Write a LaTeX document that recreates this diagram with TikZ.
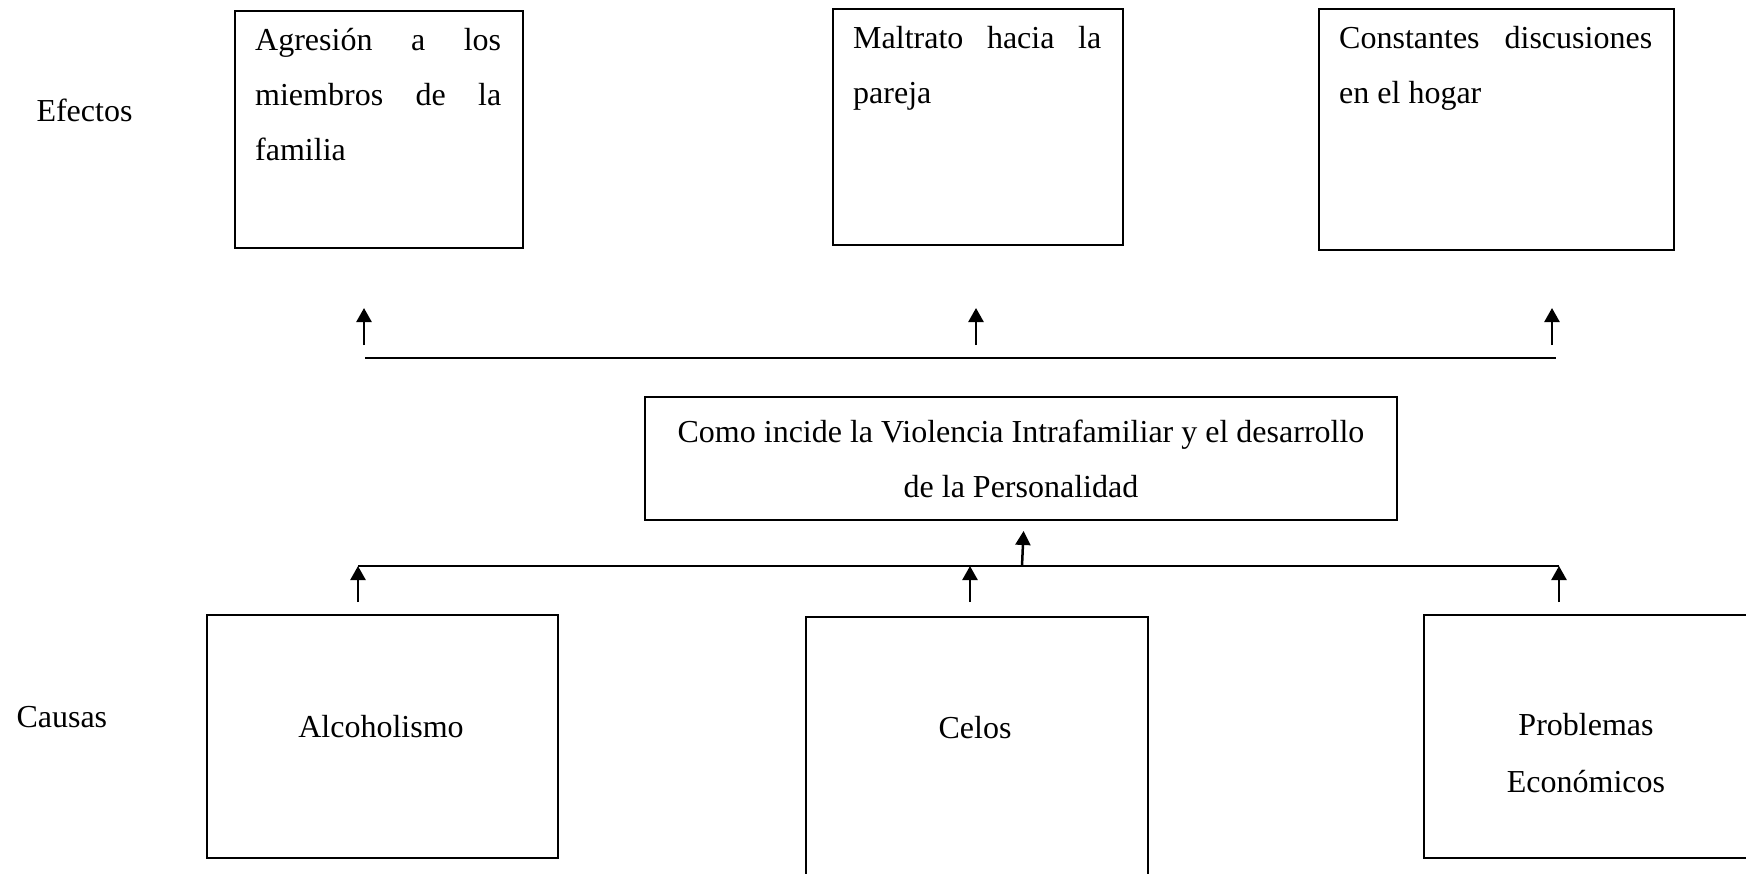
\documentclass[tikz,border=0pt]{standalone}
\usepackage{fontspec}
\setmainfont{Liberation Serif}
\usetikzlibrary{arrows.meta,positioning}

\begin{document}
\begin{tikzpicture}[x=1pt,y=-1pt,
        frame/.style={draw, line width=2pt, inner sep=0pt, anchor=north west},
        boxtext/.style={anchor=north west, inner xsep=21pt, inner ysep=18pt, align=justify,
                font=\fontsize{32}{55}\selectfont,
                execute at begin node={\tolerance=10000\relax\hyphenpenalty=10000\relax}},
        txt/.style={font=\fontsize{32}{55}\selectfont, align=center},
        bus/.style={line width=2.5pt},
        uparrow/.style={line width=2.5pt, -{Triangle[length=14pt,width=15pt]}}]
        \useasboundingbox (0,0) rectangle (1746,873);

        % efectos
        \node[txt, anchor=base west] (efectos) at (33,121) {Efectos};
        \node[frame, minimum width=288pt, minimum height=237pt] (agresion) at (234,10) {};
        \node[boxtext, text width=246pt] (agresiontext) at (agresion.north west)
                {Agresión a los\linebreak miembros de la\linebreak familia};
        \node[frame, minimum width=290pt, minimum height=236pt] (maltrato) at (832,8) {};
        \node[boxtext, text width=248pt] (maltratotext) at (maltrato.north west)
                {Maltrato hacia la\linebreak pareja};
        \node[frame, minimum width=355pt, minimum height=241pt] (constantes) at (1318,8) {};
        \node[boxtext, text width=313pt] (constantestext) at (constantes.north west)
                {Constantes discusiones\linebreak en el hogar};

        \foreach \x [count=\i] in {364, 976, 1552} {
                \coordinate (eff\i) at (\x,345);
                \draw[uparrow] (eff\i) -- ++(0,-37);
            }
        \coordinate (topl) at (365,358);
        \coordinate (topr) at (1556,358);
        \draw[bus] (topl) -- (topr);

        % problema central
        \node[frame, txt, minimum width=752pt, minimum height=123pt] (tema) at (644,396)
                {Como incide la Violencia Intrafamiliar y el desarrollo\\de la Personalidad};

        \coordinate (lowl) at (358,566);
        \coordinate (lowr) at (1559,566);
        \coordinate (mid) at (1022,566);
        \draw[bus] (lowl) -- (lowr);
        \draw[uparrow, shorten >=10pt] (mid) -- ([xshift=3pt]tema.south);
        \foreach \x [count=\i] in {358, 970, 1559} {
                \coordinate (cau\i) at (\x,602);
                \draw[uparrow] (cau\i) -- ++(0,-36);
            }

        % causas
        \node[txt, anchor=base west] (causas) at (13,727) {Causas};
        \node[frame, minimum width=351pt, minimum height=243pt] (alcohol) at (206,614) {};
        \node[txt, anchor=base] (alcoholtext) at (381,737) {Alcoholismo};
        \node[frame, minimum width=342pt, minimum height=300pt] (celos) at (805,616) {};
        \node[txt, anchor=base] (celostext) at (975,738) {Celos};
        \node[frame, minimum width=332pt, minimum height=243pt] (problemas) at (1423,614) {};
        \node[txt, anchor=base] (problemastext) at (1586,735) {Problemas};
        \node[txt, anchor=base] (economicos) at (1586,792) {Económicos};
    \end{tikzpicture}
\end{document}
